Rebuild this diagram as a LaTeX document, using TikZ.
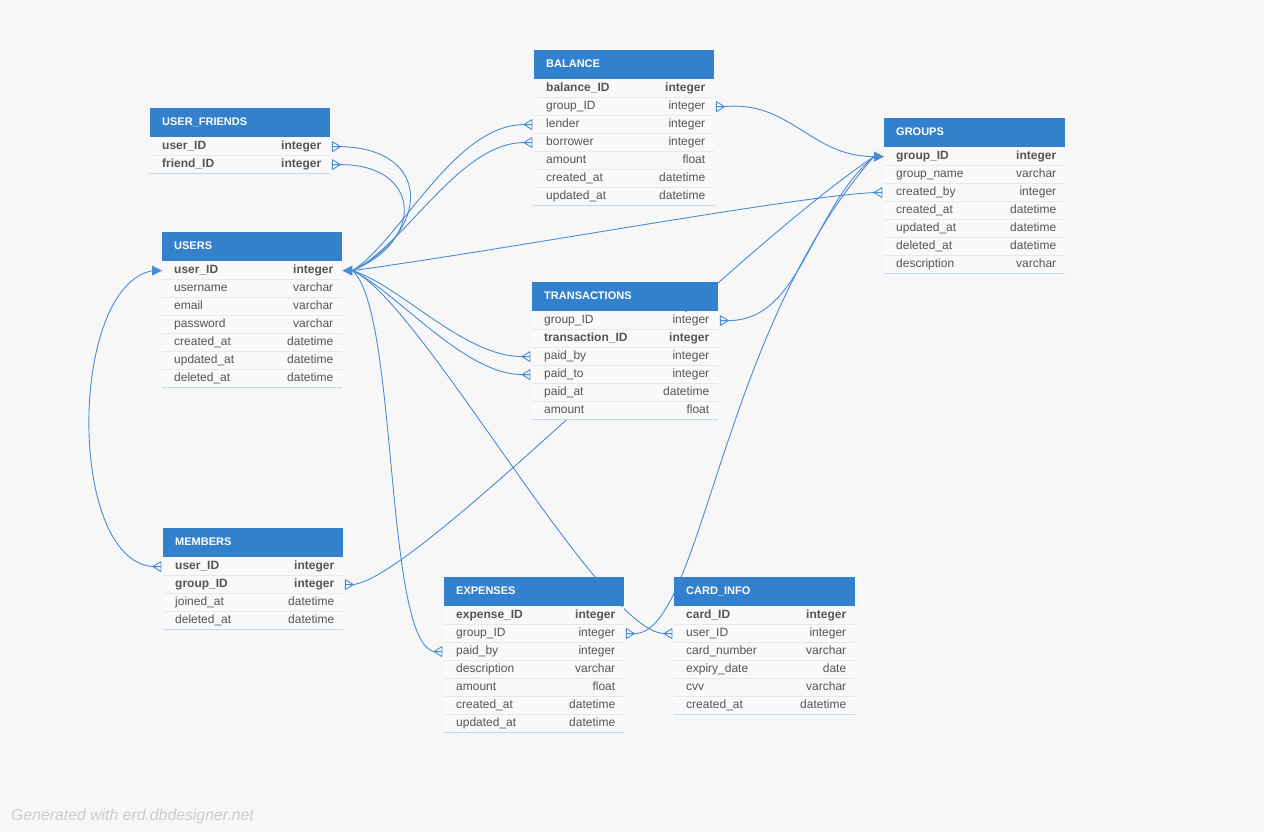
\documentclass[tikz,border=0pt]{standalone}
\usepackage{fontspec}
\setmainfont{Liberation Sans}
\usetikzlibrary{positioning,calc,arrows.meta}
\definecolor{hdrblue}{HTML}{3381CC}
\definecolor{linkblue}{HTML}{4A8CD4}
\definecolor{bggray}{HTML}{F7F7F7}
\definecolor{rowgray}{HTML}{F9F9F9}
\definecolor{sepgray}{HTML}{E8E8E8}
\definecolor{endblue}{HTML}{C5D9EE}
\definecolor{txtgray}{HTML}{555555}
\pgfdeclarelayer{canvas}
\pgfdeclarelayer{links}
\pgfsetlayers{canvas,links,main}
\newcommand{\rowfont}{\fontsize{12}{14}\selectfont}
\tikzset{
    hdr/.style={fill=hdrblue,anchor=north west,minimum height=29pt,inner sep=0pt},
    hdrtext/.style={anchor=west,text=white,font=\fontsize{11}{13}\selectfont\bfseries,inner sep=0pt,text height=8pt,text depth=2pt},
    rowbox/.style={fill=rowgray,anchor=north west,minimum height=18pt,inner sep=0pt},
    fld/.style={text=txtgray,inner sep=0pt,text height=8.5pt,text depth=2.5pt},
    sep/.style={draw=sepgray,line width=0.8pt},
    tblend/.style={draw=endblue,line width=1pt},
    link/.style={draw=linkblue,line width=0.9pt},
    one/.style={link,-{Triangle[length=10pt,width=10pt]}},
    credit/.style={anchor=west,text=black!20,font=\fontsize{15.8}{18}\selectfont\itshape,inner sep=0pt},
}
% table: id, x, y, width, title, rows
\newcommand{\erdtable}[6]{%
    \node[hdr,minimum width=#4pt] (#1) at (#2,#3) {};
    \node[hdrtext] (#1-title) at ($(#1.west)+(12,0)$) {#5};
    \foreach \f/\t/\w [count=\i] in {#6}{%
        \node[rowbox,minimum width=#4pt] (#1-\i) at ($(#1.south west)+(0,{18*(\i-1)})$) {};
        \node[fld,anchor=west,font=\rowfont\w] (#1-\i-f) at ($(#1-\i.west)+(12,0)$) {\f};
        \node[fld,anchor=east,font=\rowfont\w] (#1-\i-t) at ($(#1-\i.east)+(-9,0)$) {\t};
        \draw[sep] (#1-\i.south west) -- (#1-\i.south east);
        \xdef\lastrow{\i}%
    }
    \draw[tblend] (#1-\lastrow.south west) -- (#1-\lastrow.south east);
}
% crow's foot on the right / left side of a row
\newcommand{\crowR}[2]{%
    \coordinate (#2) at ($(#1)+(10,0)$);
    \draw[link] ($(#1)+(2,-5)$) -- ($(#1)+(2,5)$) ($(#1)+(2,-5)$) -- (#2) -- ($(#1)+(2,5)$) ($(#1)+(2,0)$) -- (#2);
}
\newcommand{\crowL}[2]{%
    \coordinate (#2) at ($(#1)+(-10,0)$);
    \draw[link] ($(#1)+(-2,-5)$) -- ($(#1)+(-2,5)$) ($(#1)+(-2,-5)$) -- (#2) -- ($(#1)+(-2,5)$) ($(#1)+(-2,0)$) -- (#2);
}

\begin{document}
\begin{tikzpicture}[x=1pt,y=-1pt]
    \begin{pgfonlayer}{canvas}
        \fill[bggray] (0,0) rectangle (1264,832);
    \end{pgfonlayer}
    \useasboundingbox (0,0) rectangle (1264,832);

    \erdtable{ufr}{150}{108}{180}{USER\_FRIENDS}{
        user\_ID/integer/\bfseries, friend\_ID/integer/\bfseries}
    \erdtable{users}{162}{232}{180}{USERS}{
        user\_ID/integer/\bfseries, username/varchar/\mdseries, email/varchar/\mdseries,
        password/varchar/\mdseries, created\_at/datetime/\mdseries,
        updated\_at/datetime/\mdseries, deleted\_at/datetime/\mdseries}
    \erdtable{balance}{534}{50}{180}{BALANCE}{
        balance\_ID/integer/\bfseries, group\_ID/integer/\mdseries, lender/integer/\mdseries,
        borrower/integer/\mdseries, amount/float/\mdseries,
        created\_at/datetime/\mdseries, updated\_at/datetime/\mdseries}
    \erdtable{groups}{884}{118}{181}{GROUPS}{
        group\_ID/integer/\bfseries, group\_name/varchar/\mdseries, created\_by/integer/\mdseries,
        created\_at/datetime/\mdseries, updated\_at/datetime/\mdseries,
        deleted\_at/datetime/\mdseries, description/varchar/\mdseries}
    \erdtable{trans}{532}{282}{186}{TRANSACTIONS}{
        group\_ID/integer/\mdseries, transaction\_ID/integer/\bfseries, paid\_by/integer/\mdseries,
        paid\_to/integer/\mdseries, paid\_at/datetime/\mdseries, amount/float/\mdseries}
    \erdtable{members}{163}{528}{180}{MEMBERS}{
        user\_ID/integer/\bfseries, group\_ID/integer/\bfseries,
        joined\_at/datetime/\mdseries, deleted\_at/datetime/\mdseries}
    \erdtable{expenses}{444}{577}{180}{EXPENSES}{
        expense\_ID/integer/\bfseries, group\_ID/integer/\mdseries, paid\_by/integer/\mdseries,
        description/varchar/\mdseries, amount/float/\mdseries,
        created\_at/datetime/\mdseries, updated\_at/datetime/\mdseries}
    \erdtable{card}{674}{577}{181}{CARD\_INFO}{
        card\_ID/integer/\bfseries, user\_ID/integer/\mdseries, card\_number/varchar/\mdseries,
        expiry\_date/date/\mdseries, cvv/varchar/\mdseries, created\_at/datetime/\mdseries}

    \node[credit] (credit) at (11,816) {Generated with erd.dbdesigner.net};

    \begin{pgfonlayer}{links}
        % many ends
        \crowR{ufr-1.east}{uf1}
        \crowR{ufr-2.east}{uf2}
        \crowR{balance-2.east}{bl2}
        \crowL{balance-3.west}{bl3}
        \crowL{balance-4.west}{bl4}
        \crowL{groups-3.west}{gr3}
        \crowR{trans-1.east}{tr1}
        \crowL{trans-3.west}{tr3}
        \crowL{trans-4.west}{tr4}
        \crowL{members-1.west}{mb1}
        \crowR{members-2.east}{mb2}
        \crowR{expenses-2.east}{ex2}
        \crowL{expenses-3.west}{ex3}
        \crowL{card-2.west}{cd2}
        % one ends
        \coordinate (uhubR) at ($(users-1.east)+(10,0)$);
        \coordinate (uhubL) at ($(users-1.west)+(-9,0)$);
        \coordinate (ghub) at ($(groups-1.west)+(-10,0)$);
        \draw[one] (uhubR) -- (users-1.east);
        \draw[one] (uhubL) -- (users-1.west);
        \draw[one] (ghub) -- (groups-1.west);

        % users.user_ID
        \draw[link] (uf1) .. controls +(93,2) and +(78,-38) .. (uhubR);
        \draw[link] (uf2) .. controls +(81,0) and +(73,-30) .. (uhubR);
        \draw[link] (uhubR) .. controls +(48,-30) and +(-70,0) .. (bl3);
        \draw[link] (uhubR) .. controls +(53,-25) and +(-65,0) .. (bl4);
        \draw[link] (uhubR) .. controls +(148,-20) and +(-75,3) .. (gr3);
        \draw[link] (uhubR) .. controls +(48,15) and +(-58,0) .. (tr3);
        \draw[link] (uhubR) .. controls +(43,20) and +(-58,0) .. (tr4);
        \draw[link] (uhubR) .. controls +(46,40) and +(-50,-11) .. (ex3);
        \draw[link] (uhubR) .. controls +(68,30) and +(-65,-3) .. (cd2);
        \draw[link] (mb1) .. controls +(-86,-6) and +(-85,15) .. (uhubL);

        % groups.group_ID
        \draw[link] (bl2) .. controls +(67,-6) and +(-64,0) .. (ghub);
        \draw[link] (tr1) .. controls +(73,0) and +(-64,54) .. (ghub);
        \draw[link] (mb2) .. controls +(68,-9) and +(-154,104) .. (ghub);
        \draw[link] (ex2) .. controls +(67,0) and +(-154,174) .. (ghub);
    \end{pgfonlayer}
\end{tikzpicture}
\end{document}
